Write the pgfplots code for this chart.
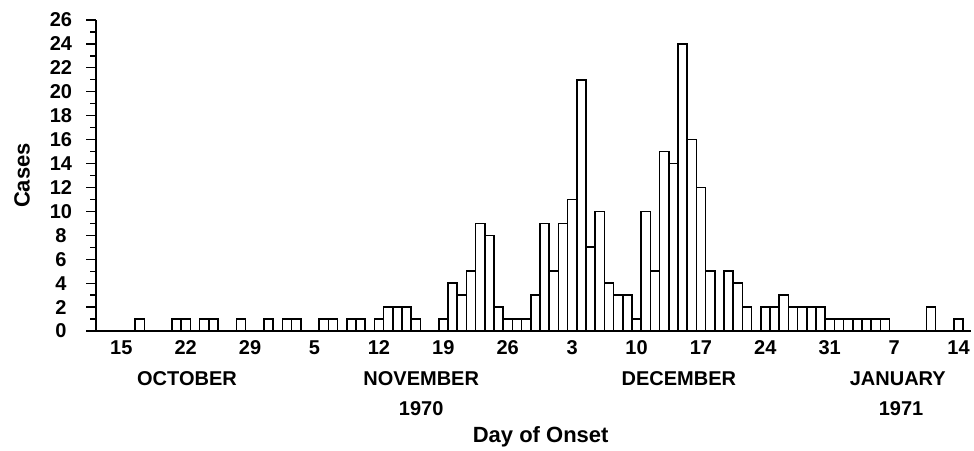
\documentclass[border=0pt]{standalone}
\usepackage{fontspec}
\setmainfont{Liberation Sans}
\usepackage{pgfplots}
\usepackage{pgfplotstable}
\pgfplotsset{compat=1.18}
\pgfplotstableread{
d h
2 1
6 1
7 1
9 1
10 1
13 1
16 1
18 1
19 1
22 1
23 1
25 1
26 1
28 1
29 2
30 2
31 2
32 1
35 1
36 4
37 3
38 5
39 9
40 8
41 2
42 1
43 1
44 1
45 3
46 9
47 5
48 9
49 11
50 21
51 7
52 10
53 4
54 3
55 3
56 1
57 10
58 5
59 15
60 14
61 24
62 16
63 12
64 5
66 5
67 4
68 2
70 2
71 2
72 3
73 2
74 2
75 2
76 2
77 1
78 1
79 1
80 1
81 1
82 1
83 1
88 2
91 1
}\cases
\begin{document}
\begin{tikzpicture}[x=1pt,y=1pt]
\path[use as bounding box] (0,0) rectangle (974,450);
\begin{axis}[
  at={(96pt,119pt)}, anchor=south west,
  scale only axis, width=875.4pt, height=311pt,
  xmin=-2.75, xmax=92.4, ymin=0, ymax=26,
  axis lines*=left,
  axis line style={line width=1.8pt, black},
  clip=false,
  ytick={0,2,...,26},
  minor ytick={1,3,...,25},
  ytick align=outside, ytick pos=left,
  major tick length=10pt, minor tick length=6pt,
  tick style={line width=1.3pt, black},
  xtick={0,7,...,91},
  xticklabels={15,22,29,5,12,19,26,3,10,17,24,31,7,14},
  x tick style={draw=none},
  xtick pos=bottom,
  /pgf/number format/assume math mode=true,
  tick label style={font=\bfseries\fontsize{20}{20}\selectfont},
  yticklabel style={anchor=center, xshift=-25pt},
  xticklabel style={yshift=-6pt},
  xlabel={Day of Onset},
  xlabel style={at={(axis description cs:0.508,0)}, anchor=center, yshift=-106pt, font=\bfseries\fontsize{22}{22}\selectfont},
  ylabel={Cases},
  ylabel style={at={(axis description cs:-0.0845,0.5)}, anchor=center, font=\bfseries\fontsize{22}{22}\selectfont},
]
\addplot[ybar, bar width=1, fill=white, draw=black, line width=1.6pt] table[x=d, y=h] {\cases};
\node[font=\bfseries\fontsize{20}{20}\selectfont, yshift=-48pt] at (axis cs:7.14,0) {OCTOBER};
\node[font=\bfseries\fontsize{20}{20}\selectfont, yshift=-48pt] at (axis cs:32.6,0) {NOVEMBER};
\node[font=\bfseries\fontsize{20}{20}\selectfont, yshift=-78pt] at (axis cs:32.6,0) {1970};
\node[font=\bfseries\fontsize{20}{20}\selectfont, yshift=-48pt] at (axis cs:60.6,0) {DECEMBER};
\node[font=\bfseries\fontsize{20}{20}\selectfont, yshift=-48pt] at (axis cs:84.4,0) {JANUARY};
\node[font=\bfseries\fontsize{20}{20}\selectfont, yshift=-78pt] at (axis cs:84.75,0) {1971};
\end{axis}
\end{tikzpicture}
\end{document}
